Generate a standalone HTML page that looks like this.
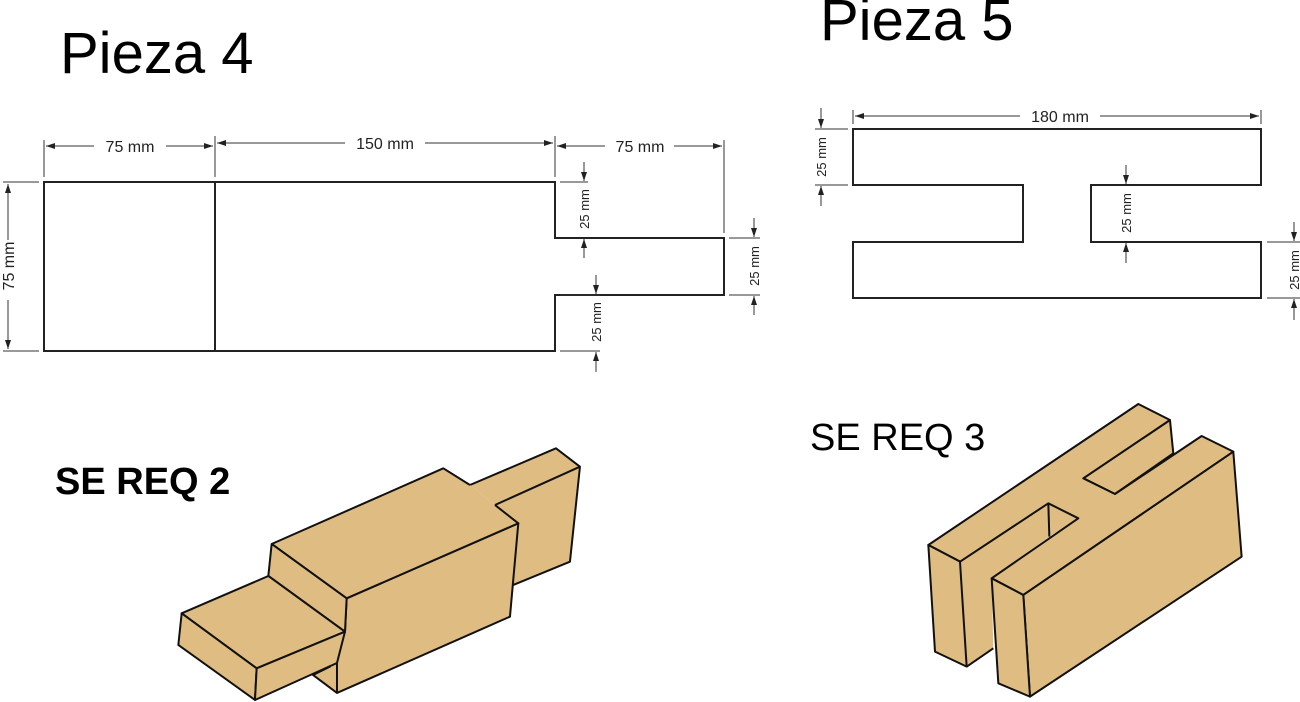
<!DOCTYPE html>
<html><head><meta charset="utf-8"><style>
html,body{margin:0;padding:0;background:#fff;}
svg{display:block;font-family:"Liberation Sans",Arial,sans-serif;}
</style></head><body>
<svg width="1300" height="702" viewBox="0 0 1300 702" xmlns="http://www.w3.org/2000/svg">
<defs>
<marker id="a" markerWidth="10" markerHeight="8" refX="9" refY="4" orient="auto" markerUnits="userSpaceOnUse">
<path d="M0,1 L9,4 L0,7 Z" fill="#222"/></marker>
</defs>
<g fill="#000">
<text x="60" y="73" font-size="58">Pieza 4</text>
<text x="820" y="40" font-size="58">Pieza 5</text>
<text x="55" y="494" font-size="38" font-weight="bold">SE REQ 2</text>
<text x="810" y="450" font-size="38">SE REQ 3</text>
</g>

<!-- Pieza 4 2D -->
<g fill="none" stroke="#222" stroke-width="2">
<path d="M44,182 H555 V238 H724 V295 H555 V351 H44 Z"/>
<line x1="215" y1="182" x2="215" y2="351"/>
</g>
<g stroke="#333" stroke-width="1" fill="none">
<line x1="44" y1="140" x2="44" y2="177"/>
<line x1="215" y1="136" x2="215" y2="177"/>
<line x1="555" y1="136" x2="555" y2="177"/>
<line x1="724" y1="140" x2="724" y2="233"/>
<line x1="94" y1="146" x2="46" y2="146" marker-end="url(#a)"/>
<line x1="166" y1="146" x2="213" y2="146" marker-end="url(#a)"/>
<line x1="345" y1="143" x2="217" y2="143" marker-end="url(#a)"/>
<line x1="425" y1="143" x2="553" y2="143" marker-end="url(#a)"/>
<line x1="605" y1="146" x2="557" y2="146" marker-end="url(#a)"/>
<line x1="674" y1="146" x2="722" y2="146" marker-end="url(#a)"/>
<line x1="3" y1="182" x2="39" y2="182"/>
<line x1="3" y1="351" x2="39" y2="351"/>
<line x1="8" y1="240" x2="8" y2="184" marker-end="url(#a)"/>
<line x1="8" y1="300" x2="8" y2="349" marker-end="url(#a)"/>
<line x1="560" y1="182" x2="588" y2="182"/>
<line x1="584" y1="162" x2="584" y2="181" marker-end="url(#a)"/>
<line x1="584" y1="258" x2="584" y2="239" marker-end="url(#a)"/>
<line x1="560" y1="295" x2="600" y2="295"/>
<line x1="560" y1="351" x2="600" y2="351"/>
<line x1="596" y1="275" x2="596" y2="294" marker-end="url(#a)"/>
<line x1="596" y1="372" x2="596" y2="352" marker-end="url(#a)"/>
<line x1="729" y1="238" x2="760" y2="238"/>
<line x1="729" y1="295" x2="760" y2="295"/>
<line x1="754" y1="218" x2="754" y2="237" marker-end="url(#a)"/>
<line x1="754" y1="315" x2="754" y2="296" marker-end="url(#a)"/>
</g>
<g fill="#222" font-size="16">
<text x="130" y="152" text-anchor="middle">75 mm</text>
<text x="385" y="149" text-anchor="middle">150 mm</text>
<text x="640" y="152" text-anchor="middle">75 mm</text>
<text transform="translate(14,266) rotate(-90)" text-anchor="middle">75 mm</text>
<text font-size="13" transform="translate(589,209) rotate(-90)" text-anchor="middle">25 mm</text>
<text font-size="13" transform="translate(601,322) rotate(-90)" text-anchor="middle">25 mm</text>
<text font-size="13" transform="translate(759,266) rotate(-90)" text-anchor="middle">25 mm</text>
</g>

<!-- Pieza 5 2D -->
<path d="M853,129 H1261 V185 H1091 V242 H1261 V298 H853 V242 H1023 V185 H853 Z" fill="none" stroke="#222" stroke-width="2"/>
<g stroke="#333" stroke-width="1" fill="none">
<line x1="853" y1="110" x2="853" y2="124"/>
<line x1="1261" y1="110" x2="1261" y2="124"/>
<line x1="1020" y1="116" x2="855" y2="116" marker-end="url(#a)"/>
<line x1="1100" y1="116" x2="1259" y2="116" marker-end="url(#a)"/>
<line x1="815" y1="129" x2="848" y2="129"/>
<line x1="815" y1="185" x2="848" y2="185"/>
<line x1="821" y1="108" x2="821" y2="128" marker-end="url(#a)"/>
<line x1="821" y1="206" x2="821" y2="186" marker-end="url(#a)"/>
<line x1="1126" y1="165" x2="1126" y2="184" marker-end="url(#a)"/>
<line x1="1126" y1="263" x2="1126" y2="243" marker-end="url(#a)"/>
<line x1="1267" y1="242" x2="1300" y2="242"/>
<line x1="1267" y1="298" x2="1300" y2="298"/>
<line x1="1294" y1="222" x2="1294" y2="241" marker-end="url(#a)"/>
<line x1="1294" y1="320" x2="1294" y2="299" marker-end="url(#a)"/>
</g>
<g fill="#222" font-size="16">
<text x="1060" y="122" text-anchor="middle">180 mm</text>
<text font-size="13" transform="translate(826,157) rotate(-90)" text-anchor="middle">25 mm</text>
<text font-size="13" transform="translate(1131,213) rotate(-90)" text-anchor="middle">25 mm</text>
<text font-size="13" transform="translate(1299,270) rotate(-90)" text-anchor="middle">25 mm</text>
</g>

<!-- SE REQ 2 3D -->
<g transform="translate(170,440) scale(0.3333)" fill="#dfbc82" stroke="#111" stroke-width="6" stroke-linejoin="round">
<polygon points="900,135 1158,25 1230,80 1200,365 1030,435 1045,250 975,195" stroke="none"/>
<polyline points="900,135 1158,25 1230,80 1200,365 1030,435" fill="none"/>
<line x1="975" y1="195" x2="1230" y2="80"/>
<polygon points="530,475 1045,250 1020,530 501,759 429,705 480,680 525,575"/>
<polygon points="305,312 820,85 900,135 975,195 1045,250 530,475" stroke="none"/>
<polyline points="305,312 820,85 900,135" fill="none"/>
<polyline points="975,195 1045,250 530,475 305,312" fill="none"/>
<polygon points="295,408 305,312 530,475 525,575"/>
<polygon points="35,520 295,408 525,575 260,685"/>
<polygon points="35,520 260,685 255,780 25,615"/>
<polygon points="260,685 525,575 501,669 255,780"/>
<line x1="501" y1="669" x2="501" y2="759"/>
</g>

<!-- SE REQ 3 3D -->
<g transform="translate(920,400) scale(0.3333)" fill="#dfbc82" stroke="#111" stroke-width="6" stroke-linejoin="round">
<polygon points="490,235 750,60 760,160 585,282"/>
<polygon points="120,485 385,310 388,410 215,535 220,745 140,800" stroke="none"/>
<polygon points="385,310 475,355 388,410 250,500" stroke="none"/>
<polyline points="220,745 140,800" fill="none"/>
<line x1="385" y1="310" x2="388" y2="410"/>
<polygon points="25,435 655,12 750,60 490,235 585,282 845,108 940,155 310,585 215,535 475,355 385,310 120,485"/>
<line x1="25" y1="435" x2="120" y2="485"/>
<polygon points="25,435 120,485 140,800 45,755"/>
<polygon points="310,585 940,155 965,470 330,890"/>
<polygon points="215,535 310,585 330,890 235,850"/>
</g>
</svg>
</body></html>
